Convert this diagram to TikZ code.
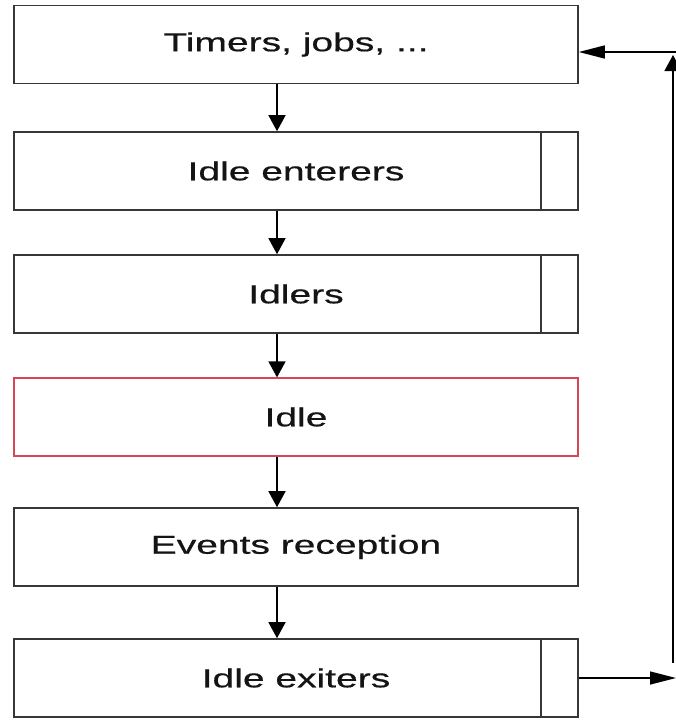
\documentclass[tikz,border=0pt]{standalone}
\usepackage{fontspec}
\newfontfamily\boxfont[FakeStretch=1.5,FakeBold=0.6]{Liberation Sans}
\usetikzlibrary{arrows.meta}
\definecolor{edge}{RGB}{55,55,55}
\definecolor{ink}{RGB}{20,20,20}
\definecolor{idlered}{RGB}{215,70,85}
\begin{document}
\begin{tikzpicture}[x=1pt,y=-1pt,
  stage/.style={draw=edge, line width=1.6pt, fill=white, minimum width=564pt,
    minimum height=78pt, inner sep=0pt, text=ink,
    font=\boxfont\fontsize{26}{30}\selectfont},
  idlestage/.style={stage, draw=idlered, line width=1.2pt},
  divider/.style={draw=edge, line width=1.6pt},
  varr/.style={draw=black, line width=1.4pt, -{Triangle[length=16pt,width=17pt]}},
  harr/.style={draw=black, line width=1.4pt, -{Triangle[length=26pt,width=13pt]}}]
\useasboundingbox (0,0) rectangle (676,720);

% stages of the loop
\node[stage]     (b1) at (296,44.5)  {Timers, jobs, ...};
\node[stage]     (b2) at (296,171)   {Idle enterers};
\node[stage]     (b3) at (296,294)   {Idlers};
\node[idlestage] (b4) at (296,417)   {Idle};
\node[stage]     (b5) at (296,547)   {Events reception};
\node[stage]     (b6) at (296,678)   {Idle exiters};

% side compartments of the list stages
\foreach \b in {b2,b3,b6}
  \draw[divider] ([xshift=-38pt]\b.north east) -- ([xshift=-38pt]\b.south east);

% downward flow
\coordinate (ax) at (277,0);
\draw[varr] (b1.south -| ax) -- (b2.north -| ax);
\draw[varr] (b2.south -| ax) -- (b3.north -| ax);
\draw[varr] (b3.south -| ax) -- (b4.north -| ax);
\draw[varr] (b4.south -| ax) -- (b5.north -| ax);
\draw[varr] (b5.south -| ax) -- (b6.north -| ax);

% loop back to the top
\coordinate (outEnd) at (676,678);
\coordinate (upStart) at (673,663);
\coordinate (upEnd) at (673,55);
\coordinate (backStart) at (676,52);
\draw[harr] (b6.east) -- (outEnd);
\draw[varr] (upStart) -- (upEnd);
\draw[harr] (backStart) -- (b1.east |- backStart);
\end{tikzpicture}
\end{document}
